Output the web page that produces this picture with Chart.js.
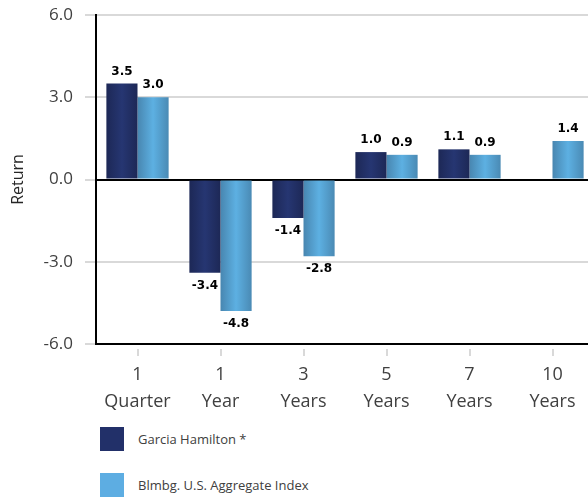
<!DOCTYPE html>
<html>
<head>
<meta charset="utf-8">
<script src="https://cdn.jsdelivr.net/npm/chart.js@4"></script>
<style>
  html, body { margin: 0; padding: 0; background: #fff; overflow: hidden; }
  #wrap { position: relative; width: 594px; height: 499px; }
  #legend { position: absolute; left: 100px; top: 427px; font: 13px "Open Sans", sans-serif; color: #404040; }
  .item { display: flex; align-items: center; height: 24px; margin-bottom: 22px; }
  .box { width: 24px; height: 24px; margin-right: 14px; }
</style>
</head>
<body>
<div id="wrap">
  <canvas id="myChartReturns" width="594" height="420"></canvas>
  <div id="legend"></div>
</div>
<script>
var categories = [['1', 'Quarter'], ['1', 'Year'], ['3', 'Years'], ['5', 'Years'], ['7', 'Years'], ['10', 'Years']];
var garcia_hamilton = [3.5, -3.4, -1.4, 1.0, 1.1, null];
var blmbg_aggregate = [3.0, -4.8, -2.8, 0.9, 0.9, 1.4];
var y_ticks = [-6, -3, 0, 3, 6];

var dark_stops = ['#1d2856', '#263672', '#1d2856'];
var light_stops = ['#4886b0', '#5db0e2', '#4a8ab4'];

// horizontal shading on each bar, like the original
const barShading = {
    id: 'barShading',
    beforeDatasetsDraw(chart) {
        const c = chart.ctx;
        chart.data.datasets.forEach(function (ds, i) {
            const meta = chart.getDatasetMeta(i);
            meta.data.forEach(function (el) {
                if (el.skip) return;
                const p = el.getProps(['x', 'width'], true);
                const g = c.createLinearGradient(p.x - p.width / 2, 0, p.x + p.width / 2, 0);
                g.addColorStop(0, ds.stops[0]);
                g.addColorStop(0.5, ds.stops[1]);
                g.addColorStop(1, ds.stops[2]);
                el.options = Object.assign({}, el.options, { backgroundColor: g });
            });
        });
    }
};

const barLabels = {
    id: 'barLabels',
    afterDatasetsDraw(chart) {
        const c = chart.ctx;
        c.save();
        c.font = 'bold 12px "DejaVu Sans"';
        c.fillStyle = '#000';
        c.textAlign = 'center';
        c.textBaseline = 'middle';
        chart.data.datasets.forEach(function (ds, i) {
            chart.getDatasetMeta(i).data.forEach(function (el, j) {
                const v = ds.data[j];
                if (v === null) return;
                const y = v >= 0 ? el.y - 12 : el.y + 13;
                c.fillText(v.toFixed(1), el.x, y);
            });
        });
        c.restore();
    }
};

const ctx = document.getElementById('myChartReturns');

const chart = new Chart(ctx, {
    type: 'bar',
    data: {
        labels: categories,
        datasets: [
            {
                label: 'Garcia Hamilton *',
                data: garcia_hamilton,
                backgroundColor: '#223069',
                stops: dark_stops
            },
            {
                label: 'Blmbg. U.S. Aggregate Index',
                data: blmbg_aggregate,
                backgroundColor: '#5dade2',
                stops: light_stops
            }
        ]
    },
    options: {
        responsive: false,
        animation: false,
        layout: { padding: { top: 15, right: 0, left: 0, bottom: 0 } },
        categoryPercentage: 0.75,
        barPercentage: 1.0,
        plugins: {
            legend: { display: false },
            tooltip: { enabled: false }
        },
        scales: {
            x: {
                border: { color: '#000', width: 2 },
                grid: {
                    drawOnChartArea: false,
                    offset: false,
                    tickLength: 12,
                    tickColor: '#d9d9d9',
                    lineWidth: 2,
                    tickBorderDash: [0, 4, 8, 100]
                },
                ticks: {
                    color: '#404040',
                    padding: 5,
                    maxRotation: 0,
                    font: { family: '"Open Sans"', size: 18, lineHeight: 1.5 }
                }
            },
            y: {
                min: -6,
                max: 6,
                afterBuildTicks: function (axis) {
                    axis.ticks = y_ticks.map(function (v) { return { value: v }; });
                },
                afterFit: function (axis) {
                    axis.width = 96;
                    axis.paddingTop = 0;
                },
                border: { color: '#000', width: 2 },
                grid: {
                    color: function (c) { return c.tick && c.tick.value === 0 ? '#000' : '#d9d9d9'; },
                    tickColor: '#d9d9d9',
                    lineWidth: 2,
                    tickLength: 11
                },
                ticks: {
                    color: '#404040',
                    padding: 12,
                    font: { family: '"Open Sans"', size: 17 },
                    callback: function (v) { return Number(v).toFixed(1); }
                },
                title: {
                    display: true,
                    text: 'Return',
                    color: '#262626',
                    padding: { top: 9, bottom: 0 },
                    font: { family: '"Open Sans"', size: 16 }
                }
            }
        }
    },
    plugins: [barShading, barLabels]
});

// legend below the chart, stacked like the original
const legend = document.getElementById('legend');
chart.data.datasets.forEach(function (ds) {
    const item = document.createElement('div');
    item.className = 'item';
    const box = document.createElement('span');
    box.className = 'box';
    box.style.background = ds.backgroundColor;
    const txt = document.createElement('span');
    txt.textContent = ds.label;
    item.appendChild(box);
    item.appendChild(txt);
    legend.appendChild(item);
});
</script>
</body>
</html>
